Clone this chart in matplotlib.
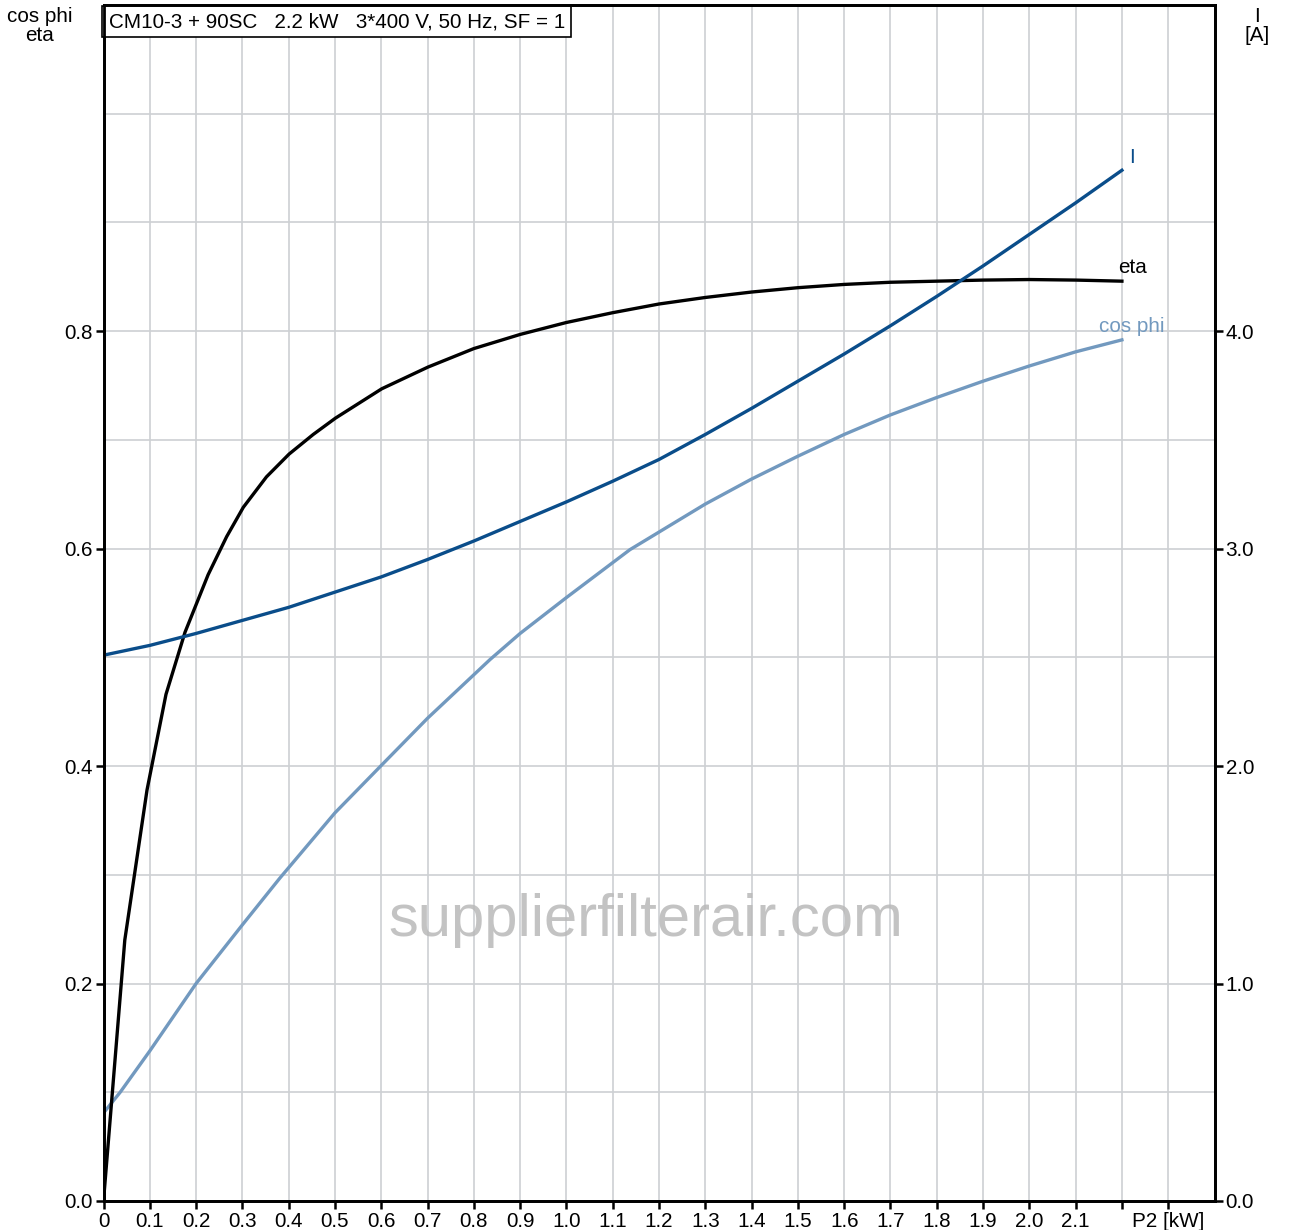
import matplotlib
matplotlib.use('Agg')
import matplotlib.pyplot as plt
import numpy as np

plt.rcParams['font.family'] = ['Liberation Sans', 'DejaVu Sans']

# P2 [kW] 与各曲线数据
p2_eta = [0, 0.046, 0.094, 0.135, 0.176, 0.226, 0.266, 0.302, 0.352, 0.401, 0.453, 0.501,
          0.601, 0.701, 0.8, 0.9, 1.0, 1.1, 1.2, 1.3, 1.4, 1.5, 1.6, 1.7, 1.8, 1.9, 2.0, 2.1, 2.2]
eta = [0, 0.24, 0.378, 0.466, 0.523, 0.576, 0.611, 0.638, 0.666, 0.687, 0.705, 0.72,
       0.747, 0.767, 0.784, 0.797, 0.808, 0.817, 0.825, 0.831, 0.836, 0.84, 0.843, 0.845,
       0.846, 0.847, 0.8475, 0.847, 0.846]

p2_i = [0, 0.1, 0.2, 0.3, 0.4, 0.5, 0.6, 0.7, 0.8, 0.9, 1.0, 1.1,
        1.2, 1.3, 1.4, 1.5, 1.6, 1.7, 1.8, 1.9, 2.0, 2.1, 2.2]
current = [2.51, 2.555, 2.61, 2.67, 2.73, 2.80, 2.87, 2.95, 3.035, 3.125, 3.215, 3.31,
           3.41, 3.525, 3.645, 3.77, 3.895, 4.025, 4.16, 4.30, 4.445, 4.59, 4.74]

p2_cos = [0, 0.036, 0.1, 0.2, 0.3, 0.381, 0.5, 0.601, 0.7, 0.835, 0.9, 1.0, 1.137,
          1.3, 1.4, 1.5, 1.6, 1.7, 1.8, 1.9, 2.0, 2.1, 2.2]
cos_phi = [0.081, 0.1, 0.138, 0.2, 0.254, 0.297, 0.357, 0.401, 0.444, 0.498, 0.522, 0.555, 0.599,
           0.641, 0.664, 0.685, 0.705, 0.723, 0.739, 0.754, 0.768, 0.781, 0.792]

x_ticks = [0, 0.1, 0.2, 0.3, 0.4, 0.5, 0.6, 0.7, 0.8, 0.9, 1.0, 1.1,
           1.2, 1.3, 1.4, 1.5, 1.6, 1.7, 1.8, 1.9, 2.0, 2.1, 2.2, 2.3]
x_labels = ['0', '0.1', '0.2', '0.3', '0.4', '0.5', '0.6', '0.7', '0.8', '0.9', '1.0', '1.1',
            '1.2', '1.3', '1.4', '1.5', '1.6', '1.7', '1.8', '1.9', '2.0', '2.1', '', 'P2 [kW]']
left_ticks = [0.0, 0.2, 0.4, 0.6, 0.8]
right_ticks = [0.0, 1.0, 2.0, 3.0, 4.0]

c_eta = 'black'
c_i = '#0a4d8a'
c_cos = '#7299bf'
fs = 14.9

fig = plt.figure(figsize=(12.95, 12.30), dpi=100)
ax = fig.add_axes([103.5 / 1295, 29 / 1230, 1111 / 1295, 1196 / 1230])
ax.set_xlim(0, 2.4)
ax.set_ylim(0, 1.1)

# 网格
ax.set_xticks(np.arange(0, 2.45, 0.1), minor=True)
ax.set_yticks(np.arange(0, 1.15, 0.1), minor=True)
ax.set_xticks(x_ticks)
ax.set_xticklabels(x_labels)
ax.set_yticks(left_ticks)
ax.set_yticklabels(['%.1f' % v for v in left_ticks])
ax.grid(which='both', color='#cdd0d3', linewidth=1.2)
ax.tick_params(which='minor', length=0)
ax.tick_params(which='major', labelsize=fs, length=6, width=1.8, pad=2)
ax.set_axisbelow(True)
for s in ax.spines.values():
    s.set_linewidth(2)

ax.plot(p2_cos, cos_phi, color=c_cos, linewidth=2.4, solid_joinstyle='round')
ax.plot(p2_eta, eta, color=c_eta, linewidth=2.4, solid_joinstyle='round')

ax2 = ax.twinx()
ax2.set_ylim(0, 5.5)
ax2.set_yticks(right_ticks)
ax2.set_yticklabels(['%.1f' % v for v in right_ticks])
ax2.tick_params(labelsize=fs, length=6, width=1.8, pad=2)
for s in ax2.spines.values():
    s.set_linewidth(2)
ax2.plot(p2_i, current, color=c_i, linewidth=2.4, solid_joinstyle='round')

# 曲线标签
ax.text(2.222, 0.9596, 'I', color=c_i, fontsize=fs, ha='center', va='center')
ax.text(2.222, 0.859, 'eta', color=c_eta, fontsize=fs, ha='center', va='center')
ax.text(2.222, 0.804, 'cos phi', color=c_cos, fontsize=fs, ha='center', va='center')

# 轴标题
fig.text(40 / 1295, 1 - 26 / 1230, 'cos phi\neta', fontsize=fs, ha='center', va='center',
         linespacing=1.0)
fig.text(1257 / 1295, 1 - 26 / 1230, 'I\n[A]', fontsize=fs, ha='center', va='center',
         linespacing=1.0)

# 标题框
ax.text(0.011, 1.0848, 'CM10-3 + 90SC   2.2 kW   3*400 V, 50 Hz, SF = 1',
        fontsize=fs, ha='left', va='center',
        bbox=dict(boxstyle='square,pad=0.3', facecolor='white', edgecolor='black', linewidth=1.2))

# 水印
ax.text(1.172, 0.258, 'supplierfilterair.com', fontsize=43, color='#b9b9b9', alpha=0.85,
        ha='center', va='center')

fig.savefig('out.png', dpi=100)
